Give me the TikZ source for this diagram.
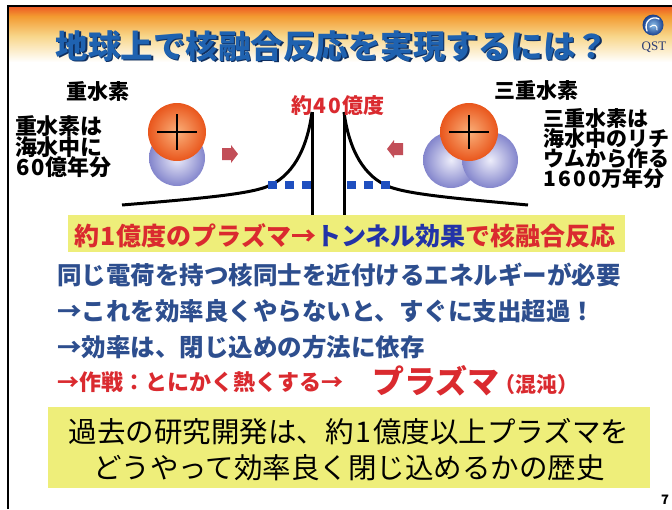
\documentclass[tikz,border=0pt]{standalone}
\usepackage{fontspec}
\setmainfont{Noto Sans CJK JP}
\newfontfamily\logofont{Liberation Serif}

\definecolor{hdrred}{HTML}{EC5424}
\definecolor{hdrorange}{HTML}{F39A30}
\definecolor{hdryellow}{HTML}{F8D68A}
\definecolor{titleblue}{HTML}{1F62B0}
\definecolor{titleshadow}{HTML}{0F2F60}
\definecolor{bodyblue}{HTML}{2D4E8E}
\definecolor{alertred}{HTML}{DA2A2F}
\definecolor{tunnelblue}{HTML}{2233A8}
\definecolor{notebox}{HTML}{EEEE7A}
\definecolor{arrowred}{HTML}{C24E58}
\definecolor{dotblue}{HTML}{1F4FBF}
\definecolor{protonhi}{HTML}{FAB07A}
\definecolor{protonlo}{HTML}{E9561C}
\definecolor{neutronhi}{HTML}{EDEDFA}
\definecolor{neutronlo}{HTML}{8385CC}
\definecolor{logohi}{HTML}{8EC0EA}
\definecolor{logolo}{HTML}{173F8E}
\definecolor{logotext}{HTML}{2B3B73}

% half-width digits set a little wider, as in the label typeface
\newcommand\dg[1]{\makebox[0.7em]{#1}}

\tikzset{
  txt/.style={inner sep=0pt, outer sep=0pt},
  sidelabel/.style={txt, font=\fontsize{21}{21}\selectfont\bfseries, text=black},
  bodyline/.style={txt, anchor=west, font=\fontsize{24.5}{24.5}\selectfont\bfseries, text=bodyblue},
  proton/.style={circle, minimum size=58pt, inner sep=0pt, inner color=protonhi, outer color=protonlo},
  neutron/.style={circle, minimum size=56pt, inner sep=0pt, inner color=neutronhi, outer color=neutronlo},
  plussign/.style={line width=1.6pt, black},
  barrier/.style={line width=3pt, black},
  tunnel/.style={dotblue, line width=8pt, dash pattern=on 9pt off 8pt},
  notefill/.style={fill=notebox, inner sep=0pt},
  blockarrow/.pic={\fill[arrowred] (-8,-6) -- (1,-6) -- (1,-9) -- (8,0) -- (1,9) -- (1,6) -- (-8,6) -- cycle;}
}

\begin{document}
\begin{tikzpicture}[x=1pt,y=-1pt]
\useasboundingbox (0,0) rectangle (672,509);
\fill[white] (0,0) rectangle (672,509);

% header band
\shade[top color=hdrred, bottom color=hdrorange] (8,5.5) rectangle (672,16);
\shade[top color=hdrorange, bottom color=hdryellow] (8,16) rectangle (672,36);
\shade[top color=hdryellow, bottom color=white] (8,36) rectangle (672,62);
\draw[line width=2pt, black] (8,509) -- (8,5.5) -- (672,5.5);

% title
\node[txt, font=\fontsize{32.5}{32.5}\selectfont\bfseries, text=titleshadow] (titleshade) at (333.5,47.5) {地球上で核融合反応を実現するには？};
\node[txt, font=\fontsize{32.5}{32.5}\selectfont\bfseries, text=titleblue] (title) at (332,46) {地球上で核融合反応を実現するには？};

% logo
\node[circle, minimum size=21pt, inner sep=0pt, inner color=logohi, outer color=logolo] (logo) at (653,25) {};
\draw[white, line width=1.3pt, line cap=round] (647,31) .. controls (643,22) and (652,15) .. (659,19);
\draw[white, line width=1pt, line cap=round] (650,27) .. controls (654,23) and (658,26) .. (657,30);
\node[txt, font=\logofont\fontsize{13}{13}\selectfont, text=logotext] (qst) at (654,47) {QST};

% deuterium
\node[sidelabel] (dname) at (98,92) {重水素};
\node[sidelabel, anchor=west, font=\fontsize{22}{22}\selectfont\bfseries] (dl1) at (15,126) {重水素は};
\node[sidelabel, anchor=west, font=\fontsize{22}{22}\selectfont\bfseries] (dl2) at (15,147) {海水中に};
\node[sidelabel, anchor=west, font=\fontsize{22}{22}\selectfont\bfseries] (dl3) at (15,167) {\dg{6}\dg{0}億年分};
\node[neutron] (dn) at (177,158) {};
\node[proton] (dp) at (177,132) {};
\draw[plussign] (dp.center) ++(-20,0) -- ++(40,0);
\draw[plussign] (dp.center) ++(0,-18) -- ++(0,36);

% tritium
\node[sidelabel] (tname) at (536,91) {三重水素};
\node[sidelabel, anchor=west] (tl1) at (543,119) {三重水素は};
\node[sidelabel, anchor=west] (tl2) at (543,139) {海水中のリチ};
\node[sidelabel, anchor=west] (tl3) at (543,159) {ウムから作る};
\node[sidelabel, anchor=west] (tl4) at (543,179) {\dg{1}\dg{6}\dg{0}\dg{0}万年分};
\node[neutron] (tn1) at (451,160) {};
\node[neutron] (tn2) at (490,160) {};
\node[proton] (tp) at (469,132) {};
\draw[plussign] (tp.center) ++(-20,0) -- ++(40,0);
\draw[plussign] (tp.center) ++(0,-17) -- ++(0,34);

% approach arrows
\pic at (230,154) {blockarrow};
\pic[rotate=180] at (395,149) {blockarrow};

% Coulomb barrier
\coordinate (lfoot) at (122,205);
\coordinate (lknee) at (266,187);
\coordinate (ltop) at (312,112);
\coordinate (lbase) at (312,215);
\coordinate (rfoot) at (528,205);
\coordinate (rknee) at (390,187);
\coordinate (rtop) at (344,112);
\coordinate (rbase) at (344,215);
\draw[barrier] (lfoot) .. controls (195,199) and (246,194.5) .. (lknee) .. controls (292,177.25) and (307,150) .. (ltop);
\draw[barrier] (rfoot) .. controls (461,199) and (410,194.5) .. (rknee) .. controls (364,177.25) and (349,150) .. (rtop);
\coordinate (ltun) at (268,185);
\coordinate (ltunend) at (312,185);
\coordinate (rtun) at (347,185);
\coordinate (rtunend) at (391,185);
\draw[tunnel] (ltun) -- (ltunend);
\draw[tunnel] (rtun) -- (rtunend);
\draw[barrier] (ltop) -- (lbase);
\draw[barrier] (rtop) -- (rbase);
\node[txt, font=\fontsize{21}{21}\selectfont\bfseries, text=alertred] (peak) at (338,106) {約\dg{4}\dg{0}億度};

% first note
\node[notefill, minimum width=557pt, minimum height=37pt] (note1) at (346.5,233.5) {};
\node[txt, font=\fontsize{25}{25}\selectfont\bfseries, text=alertred] (note1text) at (345,236) {約\dg{1}億度のプラズマ→\textcolor{tunnelblue}{トンネル効果}で核融合反応};

% explanation lines
\node[bodyline] (b1) at (57,275) {同じ電荷を持つ核同士を近付けるエネルギーが必要};
\node[bodyline] (b2) at (57,311) {→これを効率良くやらないと、すぐに支出超過！};
\node[bodyline] (b3) at (57,347) {→効率は、閉じ込めの方法に依存};
\node[txt, anchor=west, font=\fontsize{22}{22}\selectfont\bfseries, text=alertred] (b4) at (57,382) {→作戦：とにかく熱くする→};
\node[txt, anchor=west, font=\fontsize{32}{32}\selectfont\bfseries, text=alertred] (plasma) at (372,381) {プラズマ};
\node[txt, anchor=west, font=\fontsize{21}{21}\selectfont\bfseries, text=alertred] (chaos) at (494,385) {（混沌）};

% second note
\node[notefill, minimum width=602pt, minimum height=81pt] (note2) at (349,447.5) {};
\node[txt, align=center, font=\fontsize{28.5}{36}\selectfont, text=black] (note2text) at (349,450) {過去の研究開発は、約\dg{1}億度以上プラズマを\\どうやって効率良く閉じ込めるかの歴史};

% page number
\node[txt, font=\fontsize{13}{13}\selectfont\bfseries] (pageno) at (665,500) {7};
\end{tikzpicture}
\end{document}
